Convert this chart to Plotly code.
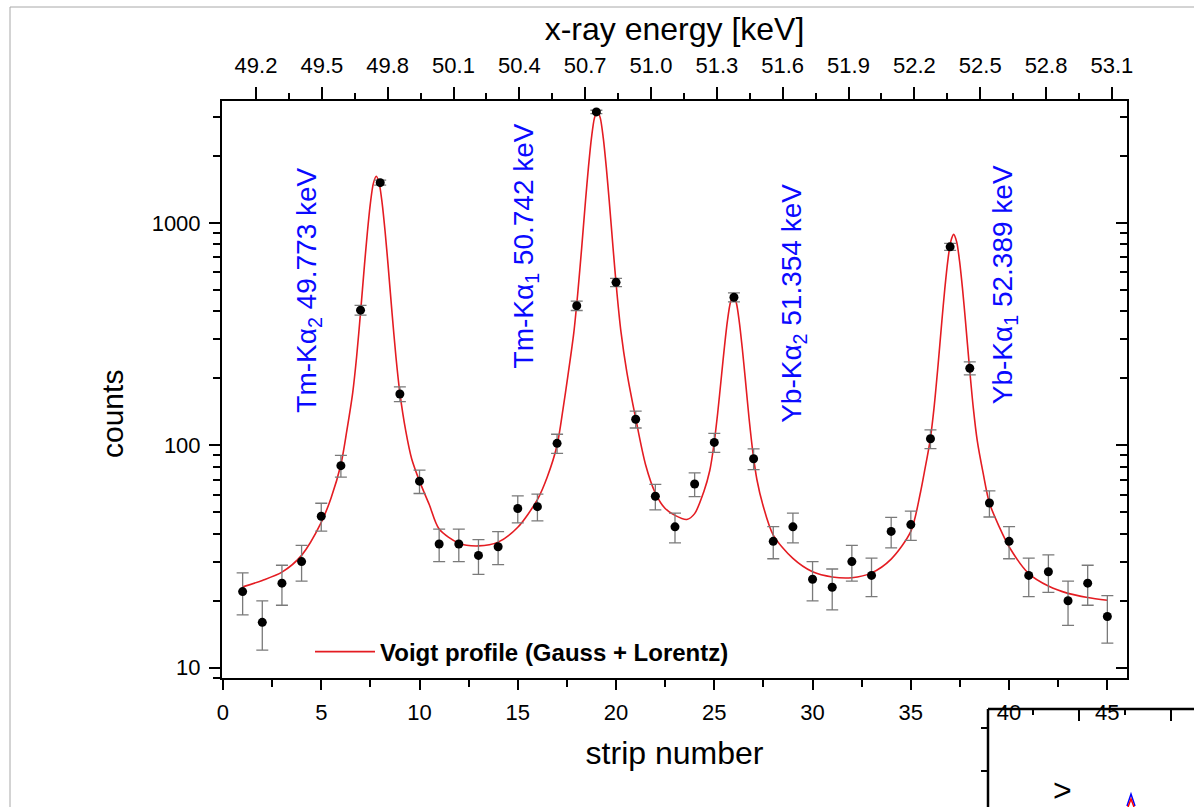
import plotly.graph_objects as go

# ---------------- data ----------------
strip = list(range(1, 46))
counts = [22, 16, 24, 30, 48, 81, 405, 1515, 170, 69,
          36, 36, 32, 35, 52, 53, 102, 424, 3150, 540,
          131, 59, 43, 67, 103, 463, 87, 37, 43, 25,
          23, 30, 26, 41, 44, 107, 780, 222, 55, 37,
          26, 27, 20, 24, 17]
count_err = [4.7, 4.0, 4.9, 5.5, 6.9, 9.0, 20.1, 38.9, 13.0, 8.3,
             6.0, 6.0, 5.7, 5.9, 7.2, 7.3, 10.1, 20.6, 56.1, 23.2,
             11.4, 7.7, 6.6, 8.2, 10.1, 21.5, 9.3, 6.1, 6.6, 5.0,
             4.8, 5.5, 5.1, 6.4, 6.6, 10.3, 27.9, 14.9, 7.4, 6.1,
             5.1, 5.2, 4.5, 4.9, 4.1]

fit_strip = [1, 2, 3, 4, 5, 5.5, 6,
             6.3, 6.6, 6.8, 7.0, 7.2, 7.35, 7.5, 7.65, 7.8, 7.95, 8.1, 8.25, 8.4, 8.6, 8.8, 9.0, 9.3, 9.6,
             10, 10.5, 11, 12, 13, 14, 15, 16, 16.5, 17, 17.3,
             17.55, 17.85, 18.05, 18.25, 18.45, 18.6, 18.75, 18.9, 19.05, 19.2, 19.35, 19.5, 19.65, 19.85, 20.05, 20.25, 20.55,
             21, 21.5, 22, 22.5, 23, 23.6, 24,
             24.47, 24.77, 24.97, 25.17, 25.37, 25.52, 25.67, 25.82, 25.97, 26.12, 26.27, 26.42, 26.57, 26.77, 26.97, 27.17, 27.47,
             28, 29, 30, 31, 32, 33, 34, 35, 35.5,
             35.68, 35.98, 36.18, 36.38, 36.58, 36.73, 36.88, 37.03, 37.18, 37.33, 37.48, 37.63, 37.78, 37.98, 38.18, 38.38, 38.68,
             39, 39.5, 40, 41, 42, 43, 44, 45]
fit_counts = [23.1, 24.7, 26.9, 32, 45, 58, 82,
              116, 172, 250, 396, 647, 912, 1223, 1500, 1618, 1500, 1223, 912, 647, 396, 250, 172, 116, 87,
              69, 54, 42, 36.3, 35.3, 36.7, 42.8, 57, 72, 100, 145,
              205, 320, 480, 768, 1266, 1792, 2407, 2955, 3190, 2955, 2407, 1792, 1266, 768, 480, 324, 213,
              132, 82, 61, 52, 48.4, 46.4, 49.3,
              62, 77, 99, 139, 207, 279, 363, 438, 470, 437, 360, 275, 202, 132, 92, 70, 54,
              39.5, 31, 27, 25.6, 25.4, 26.7, 30.8, 41, 62,
              75, 105, 147, 226, 362, 506, 673, 823, 887, 823, 673, 506, 362, 226, 147, 105, 75,
              55, 43, 35, 26.5, 23.3, 21.6, 20.7, 20.1]

strip_ticks = [0, 5, 10, 15, 20, 25, 30, 35, 40, 45]
count_ticks = [10, 100, 1000]
energy_ticks = ["49.2", "49.5", "49.8", "50.1", "50.4", "50.7", "51.0",
                "51.3", "51.6", "51.9", "52.2", "52.5", "52.8", "53.1"]

peak_labels = ["Tm-K\u03b1<sub>2</sub> 49.773 keV", "Tm-K\u03b1<sub>1</sub> 50.742 keV",
               "Yb-K\u03b1<sub>2</sub> 51.354 keV", "Yb-K\u03b1<sub>1</sub> 52.389 keV"]
peak_label_strip = [4.35, 15.4, 29.05, 39.75]
peak_label_ypaper = [0.672, 0.749, 0.650, 0.681]

fit_name = "<b>Voigt profile (Gauss + Lorentz)</b>"

# energy calibration of the top axis (keV per strip, keV at strip 0)
E_SLOPE = 0.08955
E_ZERO = 49.0496
X_RANGE = [-0.05, 46.0]
LOG_RANGE = [0.954, 3.5475]

# ---------------- figure ----------------
FONT = "Liberation Sans, Arial, Helvetica, sans-serif"
L, R, T, B = 222, 67, 101, 129
W, H = 1194, 807
PW, PH = W - L - R, H - T - B


def pxx(x):
    return (x - L) / PW


def pxy(y):
    return (H - B - y) / PH


fig = go.Figure()

fig.add_trace(go.Scatter(
    x=fit_strip, y=fit_counts, mode="lines", name=fit_name,
    line=dict(color="rgb(228,28,34)", width=1.6, shape="spline", smoothing=0.8),
    hoverinfo="skip"))

fig.add_trace(go.Scatter(
    x=strip, y=counts, mode="markers", showlegend=False,
    marker=dict(color="black", size=9),
    error_y=dict(type="data", array=count_err, color="#7a7a7a", thickness=1.3, width=6)))

# empty trace so that the top / right axes exist as a subplot
fig.add_trace(go.Scatter(x=[], y=[], xaxis="x2", yaxis="y2", showlegend=False, hoverinfo="skip"))

minor_strip = [v + 2.5 for v in strip_ticks if v + 2.5 < X_RANGE[1]]
minor_counts = [m * d for d in (1, 10, 100, 1000) for m in range(2, 10)
                if 10 ** LOG_RANGE[0] < m * d < 10 ** LOG_RANGE[1]]
energy_vals = [float(t) for t in energy_ticks]
minor_energy = [round(v + 0.15, 3) for v in energy_vals[:-1]]

axis_common = dict(showgrid=False, zeroline=False, showline=True, linecolor="black", linewidth=2,
                   tickcolor="black", tickwidth=1.5)

fig.update_layout(
    width=W, height=H,
    margin=dict(l=L, r=R, t=T, b=B, pad=0),
    paper_bgcolor="white", plot_bgcolor="white",
    font=dict(family=FONT, color="black"),
    showlegend=True,
    legend=dict(x=pxx(310), y=pxy(652), xanchor="left", yanchor="middle",
                bgcolor="rgba(0,0,0,0)", font=dict(size=24, color="black"), itemwidth=60),
    xaxis=dict(range=X_RANGE, tickmode="array", tickvals=strip_ticks, ticks="outside", ticklen=10,
               tickfont=dict(size=22), ticklabelstandoff=4,
               title=dict(text="strip number", font=dict(size=32), standoff=17),
               minor=dict(tickvals=minor_strip, ticks="outside", ticklen=7, tickwidth=1.5, tickcolor="black"),
               **axis_common),
    xaxis2=dict(overlaying="x", side="top", anchor="y", visible=True,
                range=[E_ZERO + E_SLOPE * X_RANGE[0], E_ZERO + E_SLOPE * X_RANGE[1]],
                tickmode="array", tickvals=energy_vals, ticktext=energy_ticks, ticks="outside", ticklen=12,
                tickfont=dict(size=22), ticklabelstandoff=5,
                title=dict(text="x-ray energy [keV]", font=dict(size=32), standoff=3),
                minor=dict(tickvals=minor_energy, ticks="outside", ticklen=6, tickwidth=1.5, tickcolor="black"),
                **axis_common),
    yaxis=dict(type="log", range=LOG_RANGE, tickmode="array", tickvals=count_ticks,
               ticktext=[str(v) for v in count_ticks], ticks="outside", ticklen=11,
               tickfont=dict(size=22), ticklabelstandoff=4,
               minor=dict(tickvals=minor_counts, ticks="outside", ticklen=7, tickwidth=1.5, tickcolor="black"),
               **axis_common),
    yaxis2=dict(type="log", overlaying="y", side="right", anchor="x", visible=True, range=LOG_RANGE,
                tickmode="array", tickvals=count_ticks, ticks="inside", ticklen=11, showticklabels=False,
                minor=dict(tickvals=minor_counts, ticks="inside", ticklen=7, tickwidth=1.5, tickcolor="black"),
                **axis_common),
)

# y-axis title (placed like the original, slightly below the axis centre)
fig.add_annotation(x=pxx(112), y=pxy(414), xref="paper", yref="paper", text="counts", textangle=-90,
                   showarrow=False, font=dict(size=30, color="black", family=FONT),
                   xanchor="center", yanchor="middle")

for text, xs, yp in zip(peak_labels, peak_label_strip, peak_label_ypaper):
    fig.add_annotation(x=xs, y=yp, xref="x", yref="paper", text=text, textangle=-90,
                       showarrow=False, font=dict(size=28, color="#0a0aff", family=FONT),
                       xanchor="center", yanchor="middle")

# page frame lines (thin grey)
fig.add_shape(type="line", xref="paper", yref="paper", x0=pxx(10), x1=pxx(1194), y0=pxy(7), y1=pxy(7),
              line=dict(color="#a8a8a8", width=1), layer="above")
fig.add_shape(type="line", xref="paper", yref="paper", x0=pxx(10), x1=pxx(10), y0=pxy(7), y1=pxy(807),
              line=dict(color="#a8a8a8", width=1), layer="above")

# overlapping fragment of another figure (bottom-right corner)
ink = dict(color="black", width=2.5)
fig.add_shape(type="line", xref="paper", yref="paper", x0=pxx(988), x1=pxx(1194), y0=pxy(709), y1=pxy(709), line=ink, layer="above")
fig.add_shape(type="line", xref="paper", yref="paper", x0=pxx(988), x1=pxx(988), y0=pxy(709), y1=pxy(807), line=ink, layer="above")
for tx, tl in [(1033, 6), (1079, 12), (1125, 6), (1171, 12)]:
    fig.add_shape(type="line", xref="paper", yref="paper", x0=pxx(tx), x1=pxx(tx), y0=pxy(709), y1=pxy(709 + tl),
                  line=dict(color="black", width=2), layer="above")
for ty in (728, 771):
    fig.add_shape(type="line", xref="paper", yref="paper", x0=pxx(981), x1=pxx(988), y0=pxy(ty), y1=pxy(ty),
                  line=dict(color="black", width=2), layer="above")
fig.add_annotation(x=pxx(1062), y=pxy(790), xref="paper", yref="paper", text=">", showarrow=False,
                   font=dict(size=32, color="black", family=FONT), xanchor="center", yanchor="middle")
fig.add_shape(type="path", xref="paper", yref="paper",
              path="M {} {} L {} {} L {} {}".format(pxx(1127), pxy(806), pxx(1131), pxy(794), pxx(1135), pxy(806)),
              line=dict(color="blue", width=1.5), layer="above")
fig.add_shape(type="path", xref="paper", yref="paper",
              path="M {} {} L {} {} L {} {}".format(pxx(1128), pxy(807), pxx(1131), pxy(799), pxx(1134), pxy(807)),
              line=dict(color="red", width=1.5), layer="above")

fig.write_html("out.html", config={"displayModeBar": False},
               post_script="document.body.style.margin='0';document.body.style.overflow='hidden';")
